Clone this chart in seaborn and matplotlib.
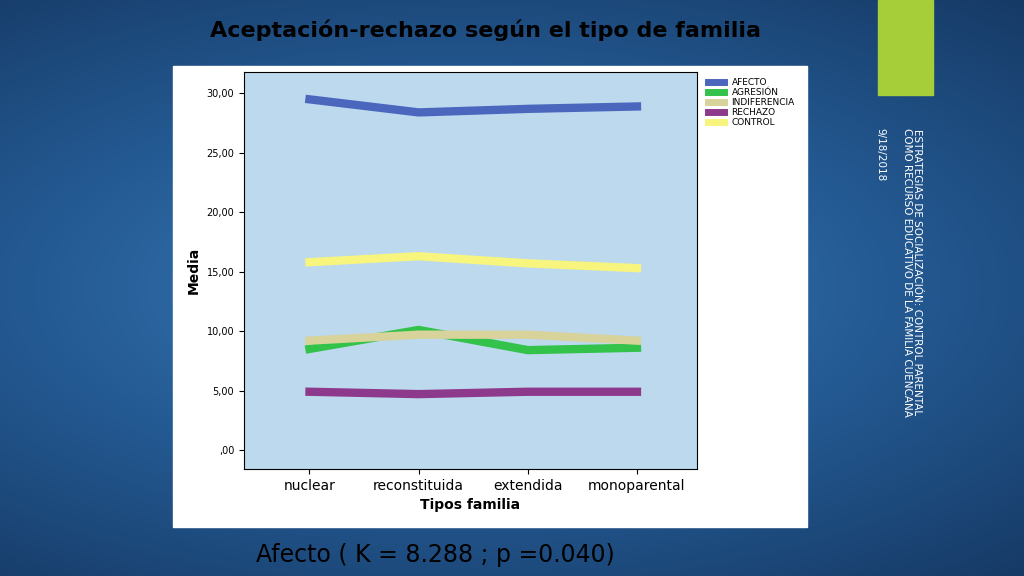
import numpy as np
import pandas as pd
import matplotlib
matplotlib.use("Agg")
import matplotlib.pyplot as plt
import seaborn as sb
from matplotlib.patches import Rectangle

familias = ["nuclear", "reconstituida", "extendida", "monoparental"]
afecto = [29.5, 28.4, 28.7, 28.9]
agresion = [8.5, 10.1, 8.4, 8.6]
indiferencia = [9.2, 9.7, 9.7, 9.2]
rechazo = [4.9, 4.7, 4.9, 4.9]
control = [15.8, 16.3, 15.7, 15.3]
yticks = [0, 5, 10, 15, 20, 25, 30]
ytick_labels = [",00", "5,00", "10,00", "15,00", "20,00", "25,00", "30,00"]

series = {"AFECTO": afecto, "AGRESIÓN": agresion, "INDIFERENCIA": indiferencia,
          "RECHAZO": rechazo, "CONTROL": control}
colores = {"AFECTO": "#4A67BD", "AGRESIÓN": "#33C24A", "INDIFERENCIA": "#D8D39A",
           "RECHAZO": "#8E3A8C", "CONTROL": "#F7F57E"}
rows = []
for name, vals in series.items():
    for i, v in enumerate(vals):
        rows.append({"x": i, "Media": v, "serie": name})
df = pd.DataFrame(rows)

fig = plt.figure(figsize=(10.24, 5.76), dpi=100)

# slide background: radial blue gradient
bg = fig.add_axes([0, 0, 1, 1])
yy, xx = np.mgrid[0:1:200j, 0:1:360j]
r = np.sqrt(((xx - 0.45) / 1.0) ** 2 + ((yy - 0.5) / 0.8) ** 2)
bg.imshow(r, cmap=matplotlib.colors.LinearSegmentedColormap.from_list(
    "bg", ["#3A7BB8", "#245A93", "#163A66"]), aspect="auto", extent=[0, 1, 0, 1])
bg.set_axis_off()
bg.add_patch(Rectangle((878 / 1024, 1 - 95 / 576), 55 / 1024, 95 / 576,
                       color="#A6CE39", transform=fig.transFigure, zorder=3))
bg.add_patch(Rectangle((173 / 1024, 1 - 527 / 576), 634 / 1024, 461 / 576,
                       color="white", transform=fig.transFigure, zorder=3))

fig.text(486 / 1024, 1 - 30 / 576, "Aceptación-rechazo según el tipo de familia",
         ha="center", va="center", fontsize=16, fontweight="bold", color="black")
fig.text(435 / 1024, 1 - 555 / 576, "Afecto ( K = 8.288 ; p =0.040)",
         ha="center", va="center", fontsize=17, color="black")
fig.text(912 / 1024, 1 - 128 / 576,
         "ESTRATEGIAS DE SOCIALIZACIÓN: CONTROL PARENTAL\nCOMO RECURSO EDUCATIVO DE LA FAMILIA CUENCANA",
         rotation=270, ha="center", va="top", fontsize=7.5, color="white", linespacing=1.1)
fig.text(880 / 1024, 1 - 128 / 576, "9/18/2018", rotation=270, ha="center", va="top",
         fontsize=7.5, color="white")

ax = fig.add_axes([244 / 1024, 1 - 469 / 576, 453 / 1024, 397 / 576])
ax.set_facecolor("#BDD9EE")
sb.lineplot(data=df, x="x", y="Media", hue="serie", palette=colores, linewidth=6,
            ax=ax, legend=True)
ax.set_xlim(-0.6, 3.55)
ax.set_ylim(-1.6, 31.8)
ax.set_xticks(range(len(familias)))
ax.set_xticklabels(familias, fontsize=10)
ax.set_yticks(yticks)
ax.set_yticklabels(ytick_labels, fontsize=7)
ax.set_xlabel("Tipos familia", fontsize=10, fontweight="bold")
ax.set_ylabel("Media", fontsize=10, fontweight="bold")
for s in ax.spines.values():
    s.set_color("black")
    s.set_linewidth(0.8)
leg = ax.legend(loc="upper left", bbox_to_anchor=(700 / 1024, 1 - 70 / 576),
                bbox_transform=fig.transFigure, frameon=False, fontsize=6.5,
                handlelength=1.8, labelspacing=0.1)
for line in leg.get_lines():
    line.set_linewidth(5)

fig.savefig("out.png", dpi=100)
